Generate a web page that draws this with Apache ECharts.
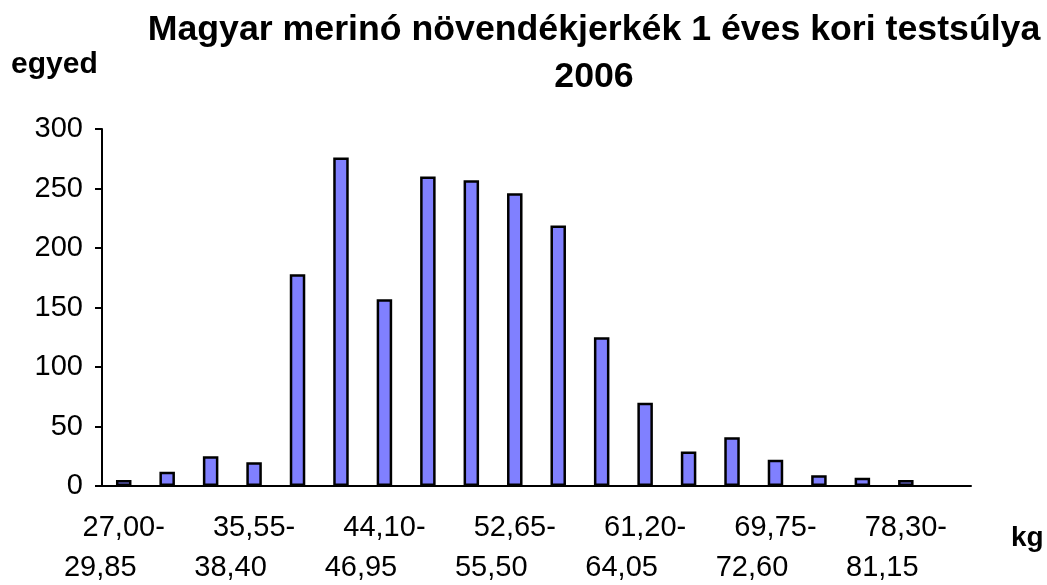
<!DOCTYPE html>
<html>
<head>
<meta charset="utf-8">
<title>Magyar merinó növendékjerkék 1 éves kori testsúlya 2006</title>
<script src="https://cdn.jsdelivr.net/npm/echarts@6/dist/echarts.min.js"></script>
<style>
  html, body { margin: 0; padding: 0; background: #fff; }
  #chart { width: 1047px; height: 585px; }
</style>
</head>
<body>
<div id="chart"></div>
<script>
// testsúly kategóriák (kg)
var categories = [
  '27,00-29,85', '29,85-32,70', '32,70-35,55', '35,55-38,40', '38,40-41,25',
  '41,25-44,10', '44,10-46,95', '46,95-49,80', '49,80-52,65', '52,65-55,50',
  '55,50-58,35', '58,35-61,20', '61,20-64,05', '64,05-66,90', '66,90-69,75',
  '69,75-72,60', '72,60-75,45', '75,45-78,30', '78,30-81,15', '81,15-84,00'
];
// egyedszám
var counts = [5, 12, 25, 20, 178, 276, 157, 260, 257, 246, 219, 125, 70, 29, 41, 22, 9, 7, 5, 0];
var yTicks = [0, 50, 100, 150, 200, 250, 300];

var titleLines = ['Magyar merinó növendékjerkék 1 éves kori testsúlya', '2006'];
var yName = 'egyed';
var xName = 'kg';

var FONT = "'Liberation Sans', Arial, sans-serif";

// nulla értéknél ne rajzoljon keretet
var barData = counts.map(function (v) {
  return v === 0 ? { value: v, itemStyle: { borderWidth: 0, opacity: 0 } } : v;
});

var chart = echarts.init(document.getElementById('chart'));
chart.setOption({
  animation: false,
  backgroundColor: '#fff',
  textStyle: { fontFamily: FONT, color: '#000' },
  graphic: [
    {
      type: 'text', x: 594, y: 7,
      style: {
        text: titleLines.join('\n'),
        font: 'bold 35.7px ' + FONT,
        fill: '#000', align: 'center', verticalAlign: 'top', lineHeight: 47
      }
    },
    {
      type: 'text', x: 11, y: 65,
      style: { text: yName, font: 'bold 30px ' + FONT, fill: '#000', align: 'left', verticalAlign: 'middle' }
    },
    {
      type: 'text', x: 1011, y: 538,
      style: { text: xName, font: 'bold 28px ' + FONT, fill: '#000', align: 'left', verticalAlign: 'middle' }
    }
  ],
  grid: { left: 102, right: 76, top: 129, bottom: 99, outerBoundsMode: 'none' },
  xAxis: {
    type: 'category',
    data: categories,
    axisLine: { lineStyle: { color: '#000', width: 2 } },
    axisTick: { interval: 0, length: 7, lineStyle: { color: '#000', width: 2 } },
    axisLabel: {
      interval: 2,
      margin: 22,
      color: '#000',
      fontSize: 29,
      lineHeight: 40,
      formatter: function (v) {
        var p = v.split('-');
        return '{a|' + p[0] + '-}\n{b|' + p[1] + '}';
      },
      rich: {
        a: { fontSize: 29, lineHeight: 40, color: '#000' },
        b: { fontSize: 29, lineHeight: 40, color: '#000', padding: [0, 47, 0, 0] }
      }
    }
  },
  yAxis: {
    type: 'value',
    min: yTicks[0],
    max: yTicks[yTicks.length - 1],
    interval: yTicks[1] - yTicks[0],
    splitLine: { show: false },
    axisLine: { show: true, lineStyle: { color: '#000', width: 2 } },
    axisTick: { show: true, length: 7, lineStyle: { color: '#000', width: 2 } },
    axisLabel: { color: '#000', fontSize: 29, margin: 19 }
  },
  series: [{
    type: 'bar',
    data: barData,
    barWidth: 15.5,
    itemStyle: { color: '#8080FF', borderColor: '#000', borderWidth: 2.5 },
    emphasis: { disabled: true }
  }]
});
</script>
</body>
</html>
